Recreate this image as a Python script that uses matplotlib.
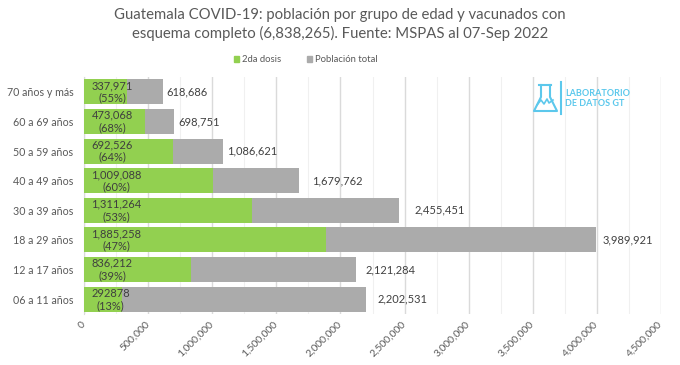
"""
Guatemala vacunados por grupo de edad
"""

import matplotlib
matplotlib.use("Agg")
from matplotlib import pyplot as plt
from matplotlib.lines import Line2D
from matplotlib.patches import Patch
from matplotlib.ticker import FuncFormatter, MultipleLocator
from matplotlib.transforms import ScaledTranslation

plt.rcParams["font.family"] = ["Lato", "DejaVu Sans"]

grupos = ["70 años y más", "60 a 69 años", "50 a 59 años", "40 a 49 años",
          "30 a 39 años", "18 a 29 años", "12 a 17 años", "06 a 11 años"]
dosis2 = [337971, 473068, 692526, 1009088, 1311264, 1885258, 836212, 292878]
total = [618686, 698751, 1086621, 1679762, 2455451, 3989921, 2121284, 2202531]
dosis2_txt = ["337,971", "473,068", "692,526", "1,009,088",
              "1,311,264", "1,885,258", "836,212", "292878"]
pct_txt = ["55%", "68%", "64%", "60%", "53%", "47%", "39%", "13%"]
total_gap = [3, 5, 4, 12.5, 16, 7, 10, 11]

gris_txt = "#595959"
verde = "#92D050"
gris = "#ABABAB"
celeste = "#5CC8EC"

W, H = 680, 365
fig = plt.figure(figsize=(W / 100, H / 100), dpi=100)
ax = fig.add_axes([84 / W, 1 - 314 / H, (661 - 84) / W, (314 - 77) / H])

ypos = list(range(len(grupos)))
ax.barh(ypos, total, height=0.84, color=gris, zorder=3)
ax.barh(ypos, dosis2, height=0.84, color=verde, zorder=4)

ax.set_xlim(0, 4500000)
ax.set_ylim(7.5, -0.5)
ax.set_yticks(ypos)
ax.set_yticklabels(grupos, fontsize=7.7, color=gris_txt)

ax.xaxis.set_major_locator(MultipleLocator(500000))
ax.xaxis.set_minor_locator(MultipleLocator(250000))
ax.xaxis.set_major_formatter(FuncFormatter(lambda v, p: f"{int(v):,}"))
ax.grid(axis="x", which="major", color="#DADADA", lw=1.0, zorder=1)
ax.grid(axis="x", which="minor", color="#F0F0F0", lw=0.8, zorder=1)
ax.tick_params(axis="both", which="both", length=0)
ax.tick_params(axis="y", pad=7.5)
ax.tick_params(axis="x", pad=4)
shift = ScaledTranslation(-3 / 100, 0, fig.dpi_scale_trans)
for lbl in ax.get_xticklabels():
    lbl.set_rotation(45)
    lbl.set_ha("right")
    lbl.set_rotation_mode("anchor")
    lbl.set_fontsize(7.5)
    lbl.set_color(gris_txt)
    lbl.set_transform(lbl.get_transform() + shift)

for s in ["top", "right", "bottom"]:
    ax.spines[s].set_visible(False)
ax.spines["left"].set_color("#DADADA")

for i in ypos:
    ax.annotate(dosis2_txt[i] + "\n(" + pct_txt[i] + ")", (0, i), xytext=(7.5, 0),
                textcoords="offset pixels", ha="left", va="center", ma="center",
                fontsize=8, color="#3F3F3F", linespacing=1.15, zorder=6)
    ax.annotate(f"{total[i]:,}", (total[i], i), xytext=(total_gap[i], 0),
                textcoords="offset pixels", ha="left", va="center",
                fontsize=8, color="#404040", zorder=6)

fig.text(0.5, 1 - 24.5 / H, "Guatemala COVID-19: población por grupo de edad y vacunados con\n"
         "esquema completo (6,838,265). Fuente: MSPAS al 07-Sep 2022",
         ha="center", va="center", fontsize=10.7, color=gris_txt, linespacing=1.25)

fig.legend(handles=[Patch(color=verde, label="2da dosis"), Patch(color=gris, label="Población total")],
           loc="center", bbox_to_anchor=(306 / W, 1 - 60 / H), ncol=2, frameon=False,
           fontsize=6.8, labelcolor=gris_txt, handlelength=0.5, handleheight=0.5,
           handletextpad=0.4, columnspacing=2.7)

# logo
def px_line(xs, ys, lw=1.5):
    fig.add_artist(Line2D([x / W for x in xs], [1 - y / H for y in ys],
                          color=celeste, lw=lw, zorder=7))

px_line([539, 551], [85, 85])
px_line([541, 541, 534, 557, 550, 550], [85, 97, 111, 111, 97, 85])
px_line([537, 541, 544, 547, 549, 553], [105, 100, 104, 99, 103, 100], lw=1.2)
px_line([560.5, 560.5], [82, 114], lw=1.5)
fig.text(565 / W, 1 - 94 / H, "LABORATORIO", fontsize=6.5, fontweight="bold",
         color=celeste, va="center", zorder=7)
fig.text(565 / W, 1 - 103 / H, "DE DATOS GT", fontsize=6.5, fontweight="bold",
         color=celeste, va="center", zorder=7)

fig.savefig("out.png", dpi=100)
